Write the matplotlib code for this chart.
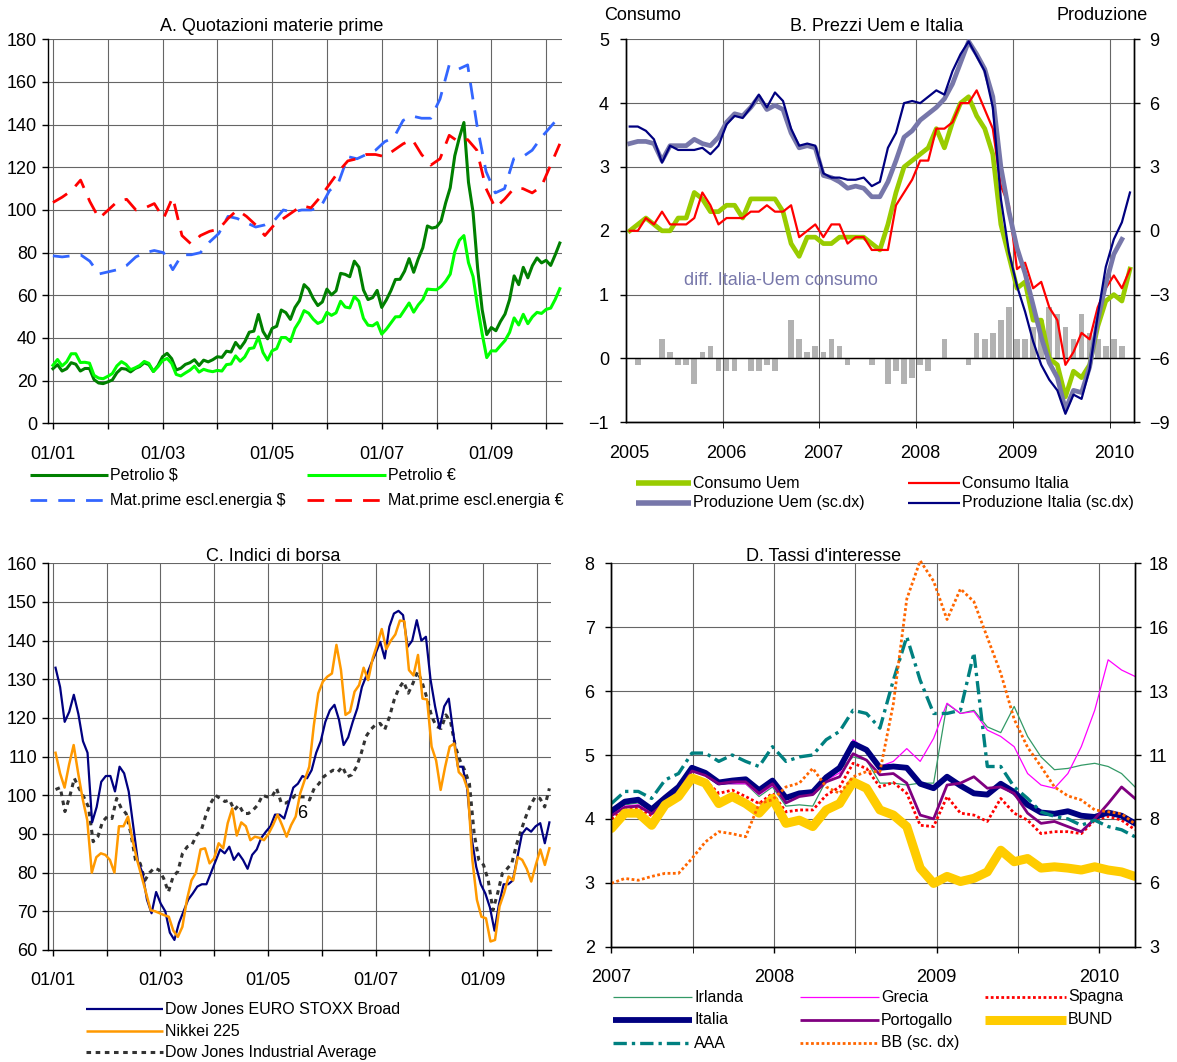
import numpy as np
import matplotlib.pyplot as plt
from matplotlib.lines import Line2D

plt.rcParams['font.family'] = ['Liberation Sans', 'DejaVu Sans']

W, H = 1177, 1062

# ---------------- A. Quotazioni materie prime (monthly, Jan 2001 - Apr 2010)
oil_usd = [25.6, 27.5, 24.5, 25.6, 28.4, 27.7, 24.5, 25.7, 25.7, 20.5, 18.9, 18.6,
           19.4, 20.3, 23.7, 25.7, 25.4, 24.1, 25.7, 26.6, 28.4, 27.5, 24.3, 27.0,
           31.2, 32.8, 30.3, 25.0, 25.8, 27.6, 28.4, 29.8, 27.1, 29.6, 28.8, 29.8,
           31.2, 30.9, 33.8, 33.4, 37.9, 35.2, 38.2, 42.7, 43.2, 51.0, 43.1, 39.6,
           44.5, 45.5, 53.1, 51.9, 48.7, 54.3, 57.5, 65.0, 62.9, 58.5, 55.2, 56.9,
           62.9, 60.2, 62.1, 70.3, 69.8, 68.7, 76.0, 73.2, 62.5, 58.0, 58.9, 62.3,
           54.3, 57.8, 62.1, 67.4, 67.5, 71.3, 77.2, 70.8, 77.1, 82.3, 92.5, 91.5,
           92.0, 94.8, 103.3, 110.4, 125.4, 133.9, 141.0, 113.0, 99.0, 72.8, 53.2, 41.6,
           44.9, 43.4, 47.7, 51.2, 58.0, 69.1, 65.0, 73.1, 68.2, 73.9, 77.5, 75.2,
           76.4, 74.0, 79.0, 84.5]
oil_eur = [27.2, 29.9, 26.9, 28.8, 32.6, 32.6, 28.5, 28.6, 28.2, 22.5, 21.2, 20.9,
           22.0, 23.3, 26.9, 28.9, 27.6, 25.1, 26.0, 27.1, 29.0, 28.1, 24.3, 26.5,
           29.4, 30.4, 28.1, 22.9, 22.2, 23.6, 24.9, 26.8, 24.0, 25.3, 24.6, 24.2,
           24.8, 24.5, 27.5, 27.8, 31.6, 29.1, 31.1, 35.0, 35.4, 40.5, 33.2, 29.6,
           34.0, 35.0, 40.2, 40.2, 38.3, 44.5, 47.9, 52.8, 51.6, 48.8, 46.8, 47.8,
           52.0, 50.6, 51.8, 57.2, 54.5, 54.1, 59.5, 57.2, 49.2, 46.0, 45.7, 47.2,
           41.8, 44.1, 47.0, 49.9, 50.0, 53.2, 56.4, 52.1, 55.5, 58.0, 62.9, 62.7,
           62.6, 64.1, 66.6, 69.9, 80.4, 85.8, 88.0, 75.3, 68.8, 54.7, 41.9, 30.8,
           34.0, 33.9, 36.4, 38.8, 42.6, 49.4, 46.1, 51.1, 46.7, 49.9, 52.0, 51.5,
           53.4, 54.0, 58.1, 63.1]
# non-energy commodities, roughly bimonthly
comm_usd = [78.5, 78, 78.5, 79, 76, 70, 71, 72, 74, 78, 80, 81, 80, 72, 79, 79, 80, 85,
            89, 97, 96, 94, 92, 93, 95, 100, 99, 100, 100, 101, 109, 113, 125, 124, 126,
            128, 132, 134, 142, 144, 143, 143, 152, 168, 166, 168, 140, 118, 108, 110,
            124, 125, 128, 134, 139, 144]
comm_eur = [103.5, 106, 109, 114, 104, 96, 100, 104, 105, 100, 101, 103, 96, 106, 88, 84,
            88, 90, 91, 96, 100, 97, 93, 88, 93, 96, 99, 102, 101, 106, 112, 118, 123, 124,
            126, 126, 125, 128, 131, 133, 126, 121, 124, 135, 132, 133, 128, 110, 101, 105,
            110, 110, 108, 111, 121, 131]

# ---------------- B. Prezzi Uem e Italia (monthly, Jan 2005 - Mar 2010)
b_years = ['2005', '2006', '2007', '2008', '2009', '2010']
cons_uem = [2.0, 2.1, 2.2, 2.1, 2.0, 2.0, 2.2, 2.2, 2.6, 2.5, 2.3, 2.3,
            2.4, 2.4, 2.2, 2.5, 2.5, 2.5, 2.5, 2.3, 1.8, 1.6, 1.9, 1.9,
            1.8, 1.8, 1.9, 1.9, 1.9, 1.9, 1.8, 1.7, 2.1, 2.6, 3.0, 3.1,
            3.2, 3.3, 3.6, 3.3, 3.7, 4.0, 4.1, 3.8, 3.6, 3.2, 2.1, 1.6,
            1.1, 1.2, 0.6, 0.6, 0.0, -0.1, -0.6, -0.2, -0.3, -0.1, 0.5, 0.9,
            1.0, 0.9, 1.4]
cons_ita = [2.0, 2.0, 2.2, 2.1, 2.3, 2.1, 2.1, 2.1, 2.2, 2.6, 2.4, 2.1,
            2.2, 2.2, 2.2, 2.3, 2.3, 2.4, 2.3, 2.3, 2.4, 1.9, 2.0, 2.1,
            1.9, 2.1, 2.1, 1.8, 1.9, 1.9, 1.7, 1.7, 1.7, 2.4, 2.6, 2.8,
            3.1, 3.1, 3.6, 3.6, 3.7, 4.0, 4.0, 4.2, 3.9, 3.6, 2.7, 2.4,
            1.4, 1.5, 1.1, 1.2, 0.8, 0.6, -0.1, 0.1, 0.4, 0.3, 0.8, 1.1,
            1.3, 1.1, 1.4]
diff_cons = [0, -0.1, 0, 0, 0.3, 0.1, -0.1, -0.1, -0.4, 0.1, 0.2, -0.2,
             -0.2, -0.2, 0, -0.2, -0.2, -0.1, -0.2, 0, 0.6, 0.3, 0.1, 0.2,
             0.1, 0.3, 0.2, -0.1, 0, 0, -0.1, 0, -0.4, -0.2, -0.4, -0.3,
             -0.1, -0.2, 0, 0.3, 0, 0, -0.1, 0.4, 0.3, 0.4, 0.6, 0.8,
             0.3, 0.3, 0.5, 0.6, 0.8, 0.7, 0.5, 0.3, 0.7, 0.4, 0.3, 0.2,
             0.3, 0.2, 0]
prod_uem = [4.1, 4.2, 4.2, 4.1, 3.3, 4.0, 4.0, 4.0, 4.3, 4.1, 4.0, 4.4,
            5.1, 5.5, 5.4, 5.8, 6.3, 5.7, 5.9, 5.7, 4.6, 3.9, 4.0, 3.9,
            2.6, 2.5, 2.3, 2.0, 2.1, 2.0, 1.6, 1.6, 2.3, 3.3, 4.4, 4.7,
            5.2, 5.5, 5.8, 6.2, 6.9, 7.9, 8.9, 8.3, 7.6, 6.3, 3.0, 0.9,
            -0.8, -2.0, -3.5, -5.0, -6.2, -6.9, -8.4, -7.5, -7.6, -6.4, -4.2, -2.5,
            -1.1, -0.4]
prod_ita = [4.9, 4.9, 4.7, 4.3, 3.2, 4.0, 3.8, 3.8, 3.8, 3.9, 3.6, 4.0,
            5.0, 5.4, 5.3, 5.8, 6.4, 5.8, 6.5, 6.1, 4.8, 4.0, 4.1, 4.0,
            2.7, 2.5, 2.5, 2.4, 2.4, 2.5, 2.1, 2.3, 3.9, 4.6, 6.0, 6.1,
            6.0, 6.3, 6.6, 6.4, 7.5, 8.3, 8.9, 8.2, 7.5, 5.8, 1.5, -1.0,
            -2.6, -3.8, -5.2, -6.3, -7.0, -7.5, -8.6, -7.7, -7.9, -6.5, -4.0, -1.7,
            -0.4, 0.4, 1.8]

# ---------------- C. Indici di borsa (about monthly, 2001 - Mar 2010)
stoxx = [133, 128, 119, 121.6, 126, 121, 114, 111, 93, 97, 103.5, 105, 105, 101, 107.4,
         105.7, 101, 92, 83, 80, 73, 69.5, 75, 72, 70, 64.5, 62.6, 67, 70, 73, 74.6, 76.4,
         77, 77, 80, 83, 86, 85, 86.7, 83.3, 85, 83.3, 81, 84.6, 86, 89, 90.6, 92, 95, 95,
         94, 98, 102, 103, 105, 104.4, 106.5, 111, 114, 119, 122, 123.4, 119.5, 113, 115,
         119, 122.5, 128, 131, 134, 136.7, 139.7, 135.4, 143.6, 147, 147.7, 146.6, 138.4,
         140, 145.3, 140, 141, 130, 123, 117.3, 123, 125, 116, 107.4, 107.4, 102, 89, 81.5,
         77, 74.6, 71, 65, 72, 77, 77, 78, 84, 90, 91.5, 90.6, 92, 92.8, 87.6, 93]
nikkei = [111, 105.7, 102, 108, 113, 105.7, 99, 93.6, 80, 84, 85, 84.6, 83.3, 80, 92, 92,
          94.5, 88.4, 83.3, 79, 74.7, 70.3, 70, 69.5, 69, 68.6, 65, 63.4, 66, 73, 78, 80,
          86, 86.3, 82.4, 83.7, 87.6, 86.3, 92.8, 96.6, 89.6, 93, 92, 88.4, 89.3, 89, 88.4,
          90, 92.3, 95, 92.3, 89.3, 92.3, 94.5, 100.5, 104, 107.4, 118, 126.4, 129.4, 130.7,
          131.5, 138.9, 132.4, 120.8, 121.6, 126.8, 128.5, 133, 129.8, 135.4, 139, 143,
          137.8, 140, 141.6, 145.2, 145, 132.4, 131, 136.3, 125, 124.8, 112.6, 109, 101.4,
          107.4, 112.6, 113.4, 106, 104.8, 101.4, 83.3, 73, 68.6, 68.2, 62.2, 62.6, 71.3,
          74.7, 79, 78, 84, 83.3, 81, 77.7, 82, 86, 82, 86.3]
djia = [101.5, 102, 95.8, 99.6, 104.4, 101.8, 99.6, 97, 88, 89.3, 93.2, 94.5, 94, 99.2,
        96.6, 95.3, 90.2, 83.3, 82.4, 78, 80, 81.2, 80.7, 78.5, 75, 79, 80.3, 85, 86.7,
        87.2, 89.7, 91, 95, 98, 100, 99.2, 98.4, 98.8, 96.2, 97.5, 95.3, 95.3, 96.2, 97.5,
        100, 99.6, 99.6, 101.8, 98, 98, 98.8, 100, 99.6, 99.6, 98.8, 101.8, 103, 104.8,
        105.7, 106.5, 106, 107.4, 104.8, 105.3, 107.4, 110.9, 115.2, 117, 118.2, 118.6,
        117, 120.3, 124.7, 127.7, 129.4, 126.4, 129, 132, 129, 125, 120.3, 117.8, 117.3,
        120.8, 119, 112.6, 109, 106.5, 103, 90.2, 83.3, 82, 78, 70.3, 74.7, 79.8, 81,
        82.4, 87.2, 91, 94.5, 97.5, 99.6, 99.2, 97, 101.8]

# ---------------- D. Tassi d'interesse (about monthly, 2007 - Mar 2010)
irlanda = [4.1, 4.22, 4.25, 4.1, 4.28, 4.45, 4.78, 4.7, 4.55, 4.55, 4.55, 4.35, 4.5, 4.2,
           4.22, 4.2, 4.6, 4.77, 4.97, 4.92, 4.56, 4.56, 4.53, 4.56, 4.56, 5.8, 5.65, 5.7,
           5.44, 5.35, 5.76, 5.29, 4.97, 4.77, 4.79, 4.84, 4.87, 4.82, 4.71, 4.5]
grecia = [4.08, 4.2, 4.22, 4.1, 4.27, 4.42, 4.77, 4.7, 4.55, 4.55, 4.55, 4.38, 4.52, 4.25,
          4.35, 4.38, 4.6, 4.72, 5.24, 5.08, 4.82, 4.9, 5.1, 4.9, 5.26, 5.81, 5.65, 5.68,
          5.39, 5.29, 5.13, 4.71, 4.53, 4.48, 4.71, 5.13, 5.7, 6.49, 6.33, 6.23]
spagna = [4.0, 4.14, 4.17, 4.05, 4.2, 4.38, 4.66, 4.6, 4.4, 4.45, 4.35, 4.24, 4.4, 4.11,
          4.14, 4.14, 4.37, 4.5, 4.87, 4.79, 4.5, 4.57, 4.4, 3.9, 3.88, 4.35, 4.09, 4.06,
          3.96, 4.32, 4.09, 3.98, 3.77, 3.8, 3.8, 3.77, 3.98, 4.04, 3.98, 3.83]
italia = [4.12, 4.27, 4.3, 4.15, 4.33, 4.5, 4.8, 4.72, 4.57, 4.6, 4.62, 4.45, 4.6, 4.33,
          4.4, 4.42, 4.65, 4.8, 5.18, 5.08, 4.8, 4.82, 4.8, 4.55, 4.48, 4.66, 4.52, 4.4,
          4.38, 4.55, 4.42, 4.22, 4.1, 4.08, 4.12, 4.05, 4.03, 4.1, 4.05, 3.93]
portogallo = [4.05, 4.18, 4.2, 4.08, 4.25, 4.42, 4.75, 4.68, 4.55, 4.58, 4.58, 4.4, 4.55,
              4.25, 4.35, 4.38, 4.58, 4.66, 5.02, 4.92, 4.69, 4.71, 4.56, 4.06, 4.0, 4.53,
              4.56, 4.66, 4.48, 4.5, 4.4, 4.09, 3.93, 3.96, 3.88, 3.8, 4.0, 4.24, 4.5, 4.32]
bund = [3.85, 4.09, 4.09, 3.9, 4.22, 4.35, 4.64, 4.56, 4.24, 4.35, 4.24, 4.09, 4.32, 3.93,
        3.98, 3.88, 4.14, 4.24, 4.58, 4.48, 4.14, 4.06, 3.88, 3.23, 2.99, 3.1, 3.02, 3.07,
        3.17, 3.51, 3.33, 3.38, 3.23, 3.25, 3.23, 3.2, 3.25, 3.2, 3.17, 3.1]
aaa = [4.24, 4.43, 4.43, 4.32, 4.61, 4.71, 5.03, 5.03, 4.9, 5.0, 4.9, 4.82, 5.13, 4.9,
       4.97, 5.0, 5.24, 5.37, 5.7, 5.65, 5.42, 6.17, 6.85, 6.17, 5.65, 5.65, 5.7, 6.6,
       4.82, 4.82, 4.5, 4.32, 4.11, 4.04, 4.0, 3.9, 3.98, 3.88, 3.83, 3.72]
bb = [5.48, 5.67, 5.6, 5.75, 5.87, 5.87, 6.45, 7.1, 7.5, 7.42, 7.3, 8.6, 8.75, 9.25, 9.4,
      9.98, 9.25, 9.0, 9.65, 9.85, 9.85, 12.5, 16.6, 18.1, 17.3, 15.8, 17.0, 16.5, 15.1,
      13.7, 11.9, 10.8, 10.05, 9.25, 8.9, 8.74, 8.35, 8.28, 8.2, 7.8]

# ---------------- figure
fig = plt.figure(figsize=(W / 100, H / 100), dpi=100)
FS = 13
LFS = 11.5
GRID = dict(color='#666666', lw=0.8)


def box(l, r, t, b):
    return [l / W, 1 - b / H, (r - l) / W, (b - t) / H]


def ftext(x, y, s, **kw):
    fig.text(x / W, 1 - y / H, s, fontsize=kw.pop('fontsize', FS), va='center', **kw)


def leg(x0, x1, y, label, **style):
    fig.add_artist(Line2D([x0 / W, x1 / W], [1 - y / H] * 2, transform=fig.transFigure,
                          solid_capstyle='butt', **style))
    ftext(x1 + 2, y, label, fontsize=LFS, ha='left')


def style_axes(ax, right=False):
    ax.spines['top'].set_visible(False)
    ax.spines['right'].set_visible(right)
    for s in ax.spines.values():
        s.set_color('black')
        s.set_linewidth(1)
    ax.tick_params(labelsize=FS, length=4, width=1, colors='black')
    ax.set_axisbelow(True)


# A
axA = fig.add_axes(box(48, 562, 39.3, 423.3))
t_oil = 2001 + np.arange(len(oil_usd)) / 12
t_comm = np.linspace(2001.0, 2010.25, len(comm_usd))
axA.plot(t_oil, oil_usd, color='#008000', lw=2.2)
axA.plot(t_oil, oil_eur, color='#00ff00', lw=2.2)
axA.plot(t_comm, comm_usd, color='#3366ff', lw=2, ls=(0, (6, 4)))
axA.plot(t_comm, comm_eur, color='#ff0000', lw=2, ls=(0, (6, 4)))
axA.set_xlim(2000.91, 2010.29)
axA.set_ylim(0, 180)
axA.set_yticks(range(0, 181, 20))
axA.set_xticks(range(2001, 2011))
axA.set_xticklabels(['01/01', '', '01/03', '', '01/05', '', '01/07', '', '01/09', ''])
axA.grid(True, **GRID)
style_axes(axA)
axA.tick_params(axis='x', pad=12)
axA.tick_params(axis='y', pad=4)
ftext(272, 26.7, 'A. Quotazioni materie prime', ha='center')
leg(29.5, 108, 475, 'Petrolio $', color='#008000', lw=2.2)
leg(307, 386, 475, 'Petrolio €', color='#00ff00', lw=2.2)
leg(29.5, 108, 500, 'Mat.prime escl.energia $', color='#3366ff', lw=2, ls=(0, (6, 4)))
leg(307, 386, 500, 'Mat.prime escl.energia €', color='#ff0000', lw=2, ls=(0, (6, 4)))

# B
axB = fig.add_axes(box(625.7, 1134, 39.3, 422.3))
axB2 = axB.twinx()
mb = np.arange(len(cons_uem))
axB.bar(mb, diff_cons, width=0.7, color='#b2b2b2', zorder=2)
axB.axhline(0, color='black', lw=1, zorder=2.5)
axB.plot(mb, cons_uem, color='#99cc00', lw=3.4, zorder=3)
axB.plot(mb, cons_ita, color='#ff0000', lw=1.6, zorder=3)
axB2.plot(mb[:len(prod_uem)], prod_uem, color='#7777aa', lw=3.4)
axB2.plot(mb, prod_ita, color='#000080', lw=1.6)
axB.set_xlim(-0.5, 62.5)
axB.set_ylim(-1, 5)
axB2.set_ylim(-9, 9)
axB2.set_yticks(range(-9, 10, 3))
axB.set_xticks(range(0, 63, 12))
axB.set_xticklabels(b_years)
axB.set_xticks(np.arange(11.5, 62, 12), minor=True)
axB.grid(True, axis='y', **GRID)
axB.grid(True, axis='x', which='minor', **GRID)
style_axes(axB, right=True)
style_axes(axB2, right=True)
axB.tick_params(axis='y', pad=8)
axB2.tick_params(axis='y', pad=7)
axB.tick_params(axis='x', which='major', length=0, pad=16)
axB.tick_params(axis='x', which='minor', length=4)
axB.text(6.7, 1.22, 'diff. Italia-Uem consumo', color='#7777aa', fontsize=FS, va='center')
ftext(876.7, 26.7, 'B. Prezzi Uem e Italia', ha='center')
ftext(604, 15, 'Consumo', ha='left')
ftext(1148, 15, 'Produzione', ha='right')
leg(636, 691, 483, 'Consumo Uem', color='#99cc00', lw=4)
leg(908, 960, 483, 'Consumo Italia', color='#ff0000', lw=1.6)
leg(636, 691, 503, 'Produzione Uem (sc.dx)', color='#7777aa', lw=4)
leg(908, 960, 503, 'Produzione Italia (sc.dx)', color='#000080', lw=1.6)

# C
axC = fig.add_axes(box(48, 551, 563.3, 950))
axC.plot(np.linspace(2001.05, 2010.23, len(djia)), djia, color='#333333', lw=2.2,
         ls=(0, (1.5, 1.5)))
axC.plot(np.linspace(2001.05, 2010.23, len(stoxx)), stoxx, color='#000080', lw=1.6)
axC.plot(np.linspace(2001.05, 2010.23, len(nikkei)), nikkei, color='#ff9900', lw=1.8)
axC.text(2005.64, 95.3, '6', fontsize=FS, ha='center', va='center')
axC.set_xlim(2000.91, 2010.26)
axC.set_ylim(60, 160)
axC.set_yticks(range(60, 161, 10))
axC.set_xticks(range(2001, 2011))
axC.set_xticklabels(['01/01', '', '01/03', '', '01/05', '', '01/07', '', '01/09', ''])
axC.grid(True, **GRID)
style_axes(axC)
axC.tick_params(axis='x', pad=12)
axC.tick_params(axis='y', pad=4)
ftext(273, 556.7, 'C. Indici di borsa', ha='center')
leg(86, 163, 1009, 'Dow Jones EURO STOXX Broad', color='#000080', lw=1.6)
leg(86, 163, 1031, 'Nikkei 225', color='#ff9900', lw=1.8)
leg(86, 163, 1052, 'Dow Jones Industrial Average', color='#333333', lw=2.2, ls=(0, (1.5, 1.5)))

# D
axD = fig.add_axes(box(611.4, 1135, 563.3, 946.7))
axD2 = axD.twinx()
td = np.linspace(2007.0, 2010.22, len(italia))
axD.plot(td, irlanda, color='#339966', lw=0.9)
axD.plot(td, grecia, color='#ff00ff', lw=0.9)
axD.plot(td, spagna, color='#ff0000', lw=2, ls=(0, (1, 0.9)))
axD.plot(td, italia, color='#000080', lw=4.2)
axD.plot(td, portogallo, color='#800080', lw=2)
axD.plot(td, bund, color='#ffcc00', lw=6.5, solid_capstyle='round')
axD.plot(td, aaa, color='#008080', lw=2.4, ls=(0, (4, 1.5, 1, 1.5)))
axD2.plot(td, bb, color='#ff6600', lw=2, ls=(0, (1, 0.9)), clip_on=False)
axD.set_xlim(2007.0, 2010.22)
axD.set_ylim(2, 8)
axD2.set_ylim(3, 18)
axD2.set_yticks([3, 5.5, 8, 10.5, 13, 15.5, 18])
axD2.set_yticklabels(['3', '6', '8', '11', '13', '16', '18'])
axD.set_xticks([2007, 2008, 2009, 2010])
axD.set_xticks([2007.5, 2008.5, 2009.5], minor=True)
axD.grid(True, which='both', **GRID)
style_axes(axD, right=True)
style_axes(axD2, right=True)
axD.tick_params(axis='x', which='both', length=4, pad=12)
axD.tick_params(axis='y', pad=8)
axD2.tick_params(axis='y', pad=6)
ftext(824, 556.7, "D. Tassi d'interesse", ha='center')
leg(613, 692, 997, 'Irlanda', color='#339966', lw=0.9)
leg(800, 879, 997, 'Grecia', color='#ff00ff', lw=0.9)
leg(985, 1066, 997, 'Spagna', color='#ff0000', lw=2, ls=(0, (1, 0.9)))
leg(613, 692, 1020, 'Italia', color='#000080', lw=4.2)
leg(800, 879, 1020, 'Portogallo', color='#800080', lw=2)
leg(985, 1066, 1020, 'BUND', color='#ffcc00', lw=6.5)
leg(613, 692, 1043, 'AAA', color='#008080', lw=2.4, ls=(0, (4, 1.5, 1, 1.5)))
leg(800, 879, 1043, 'BB (sc. dx)', color='#ff6600', lw=2, ls=(0, (1, 0.9)))

fig.savefig('out.png', dpi=100, facecolor='white')
plt.close(fig)
